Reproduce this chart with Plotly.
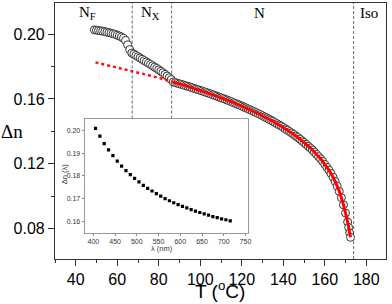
import plotly.graph_objects as go

# ---- main data: birefringence vs temperature ----
T_data = [49, 50, 51, 52, 53, 54, 55, 56, 57, 58, 59, 60, 61, 62, 63, 64, 65, 66,
          67, 68, 69, 70, 71, 72, 73, 74, 75, 76, 77, 78, 79, 80, 81, 82, 83, 84, 85, 86]
dn_data = [0.2027, 0.2025, 0.2023, 0.2021, 0.2019, 0.2016, 0.2013, 0.2010, 0.2007, 0.2003,
           0.1999, 0.1994, 0.1989, 0.1983, 0.1975, 0.1962, 0.1935, 0.1905,
           0.1884, 0.1877, 0.1869, 0.1861, 0.1853, 0.1845, 0.1837, 0.1829, 0.1821, 0.1813,
           0.1805, 0.1797, 0.1789, 0.1780, 0.1771, 0.1762, 0.1752, 0.1742, 0.1731, 0.1720]

T_N = [87, 88, 89, 90, 91, 92, 93, 94, 95, 96, 97, 98, 99, 100, 101, 102, 103, 104, 105,
       106, 107, 108, 109, 110, 111, 112, 113, 114, 115, 116, 117, 118, 119, 120, 121, 122,
       123, 124, 125, 126, 127, 128, 129, 130, 131, 132, 133, 134, 135, 136, 137, 138, 139,
       140, 141, 142, 143, 144, 145, 146, 147, 148, 149, 150, 151, 152, 153, 154, 155, 156,
       157, 158, 159, 160, 161, 162, 163, 164, 165, 166, 167, 168, 169, 170, 171, 171.5,
       172, 172.4]
dn_N = [0.1705, 0.1701, 0.1697, 0.1693, 0.1690, 0.1686, 0.1682, 0.1678, 0.1674, 0.1670,
        0.1665, 0.1661, 0.1657, 0.1653, 0.1649, 0.1644, 0.1640, 0.1635, 0.1631, 0.1626,
        0.1622, 0.1617, 0.1612, 0.1607, 0.1603, 0.1598, 0.1593, 0.1588, 0.1583, 0.1577,
        0.1572, 0.1567, 0.1562, 0.1556, 0.1550, 0.1545, 0.1539, 0.1533, 0.1527, 0.1521,
        0.1515, 0.1509, 0.1503, 0.1496, 0.1489, 0.1483, 0.1476, 0.1469, 0.1462, 0.1454,
        0.1447, 0.1439, 0.1432, 0.1424, 0.1415, 0.1407, 0.1398, 0.1390, 0.1381, 0.1371,
        0.1362, 0.1352, 0.1341, 0.1331, 0.1320, 0.1308, 0.1297, 0.1285, 0.1272, 0.1258,
        0.1244, 0.1230, 0.1214, 0.1196, 0.1178, 0.1160, 0.1139, 0.1116, 0.1090, 0.1061,
        0.1028, 0.0990, 0.0946, 0.0895, 0.0840, 0.0806, 0.0772, 0.0745]

# fit extrapolation (dotted red)
T_extrap = [49.5, 55, 60, 65, 70, 75, 80, 86, 87]
dn_extrap = [0.1826, 0.1810, 0.1795, 0.1780, 0.1764, 0.1747, 0.1730, 0.1708, 0.1705]

# phase boundaries and labels
T_bound = [67.2, 86.2, 173.9]
phase_labels = ["N<sub>F</sub>", "N<sub>X</sub>", "N", "Iso"]
phase_T = [45.7, 76.2, 128.6, 181.4]

# ---- inset data: dispersion ----
lam = [405, 415, 425, 435, 445, 455, 465, 475, 485, 495, 505, 515, 525, 535, 545, 555,
       565, 575, 585, 595, 605, 615, 625, 635, 645, 655, 665, 675, 685, 695, 705, 715]
dn_lam = [0.2010, 0.1975, 0.1942, 0.1915, 0.1889, 0.1865, 0.1843, 0.1823, 0.1805, 0.1789,
          0.1773, 0.1758, 0.1745, 0.1733, 0.1721, 0.1710, 0.1699, 0.1690, 0.1681, 0.1673,
          0.1665, 0.1658, 0.1651, 0.1644, 0.1638, 0.1632, 0.1626, 0.1620, 0.1615, 0.1610,
          0.1606, 0.1601]

INSET_X = [0.0896, 0.582]
INSET_Y = [0.1012, 0.5486]

fig = go.Figure()

fig.add_trace(go.Scatter(x=T_data + T_N, y=dn_data + dn_N, mode="markers",
                         marker=dict(symbol="circle", size=8, color="white",
                                     line=dict(color="#333333", width=1)),
                         showlegend=False))
fig.add_trace(go.Scatter(x=T_extrap, y=dn_extrap, mode="lines",
                         line=dict(color="#ff1010", width=2.5, dash="dot"),
                         showlegend=False))
fig.add_trace(go.Scatter(x=T_N, y=dn_N, mode="lines",
                         line=dict(color="#ff0000", width=3, shape="spline"),
                         showlegend=False))

# inset
fig.add_trace(go.Scatter(x=lam, y=dn_lam, mode="markers", xaxis="x2", yaxis="y2",
                         marker=dict(symbol="square", size=3.2, color="black"),
                         showlegend=False))

# phase boundary dashed lines (the two left ones stop at the inset's top)
for i, tb in enumerate(T_bound):
    fig.add_shape(type="line", xref="x", yref="paper", x0=tb, x1=tb,
                  y0=(INSET_Y[1] if i < 2 else 0), y1=1, layer="below",
                  line=dict(color="#666666", width=1, dash="3px,2px"))

main_font = dict(family="Liberation Sans, Arial, sans-serif", size=16, color="black")
small_font = dict(family="Liberation Sans, Arial, sans-serif", size=7, color="#333333")

fig.update_layout(
    width=392, height=304,
    margin=dict(l=55, r=2, t=2, b=45),
    paper_bgcolor="white", plot_bgcolor="white",
    xaxis=dict(range=[30, 189.5], domain=[0, 1], tickmode="linear", tick0=40, dtick=20,
               ticks="outside", ticklen=6, tickcolor="#333", tickwidth=1,
               minor=dict(dtick=10, tick0=30, ticks="outside", ticklen=3, tickcolor="#333"),
               showline=True, linecolor="#333", linewidth=1.2, mirror=True,
               showgrid=False, zeroline=False, tickfont=main_font),
    yaxis=dict(range=[0.0611, 0.2193], domain=[0, 1], tickmode="linear", tick0=0.08,
               dtick=0.04, tickformat=".2f", ticks="outside", ticklen=6, tickcolor="#333",
               tickwidth=1,
               minor=dict(dtick=0.02, tick0=0.06, ticks="outside", ticklen=3, tickcolor="#333"),
               showline=True, linecolor="#333", linewidth=1.2, mirror=True,
               showgrid=False, zeroline=False, tickfont=main_font),
    xaxis2=dict(range=[380, 755], domain=INSET_X, anchor="y2",
                tickmode="linear", tick0=400, dtick=50, ticks="outside", ticklen=2,
                tickcolor="#888", showline=True, linecolor="#999", linewidth=1, mirror=True,
                showgrid=False, zeroline=False, tickfont=small_font),
    yaxis2=dict(range=[0.1547, 0.2053], domain=INSET_Y, anchor="x2",
                tickmode="linear", tick0=0.16, dtick=0.01, tickformat=".2f",
                ticks="outside", ticklen=2, tickcolor="#888",
                showline=True, linecolor="#999", linewidth=1, mirror=True,
                showgrid=False, zeroline=False, tickfont=small_font),
)

ann = []
for lbl, tx in zip(phase_labels, phase_T):
    ann.append(dict(x=tx, y=0.961, xref="x", yref="paper", text=lbl, showarrow=False,
                    font=dict(family="Liberation Serif, Times New Roman, serif", size=15,
                              color="black"),
                    xanchor="center", yanchor="middle"))
ann.append(dict(x=-0.131, y=0.5, xref="paper", yref="paper", text="Δn", showarrow=False,
                font=dict(family="Liberation Serif, Times New Roman, serif", size=19,
                          color="black"), xanchor="center", yanchor="middle"))
ann.append(dict(x=0.4985, y=-0.1206, xref="paper", yref="paper", text="T (<sup>o</sup>C)",
                showarrow=False, font=dict(family="Liberation Sans, Arial, sans-serif",
                                           size=19, color="black"),
                xanchor="center", yanchor="middle"))
ann.append(dict(x=0.0269, y=0.3346, xref="paper", yref="paper", text="Δn (λ)",
                showarrow=False, textangle=-90,
                font=dict(family="Liberation Sans, Arial, sans-serif", size=7.5,
                          color="#333333"), xanchor="center", yanchor="middle"))
ann.append(dict(x=0.3224, y=0.0428, xref="paper", yref="paper", text="λ (nm)",
                showarrow=False, font=dict(family="Liberation Sans, Arial, sans-serif",
                                           size=7.5, color="#333333"),
                xanchor="center", yanchor="middle"))
fig.update_layout(annotations=ann)

fig.write_html("out.html", config={"displayModeBar": False},
               post_script="document.body.style.margin='0';")
